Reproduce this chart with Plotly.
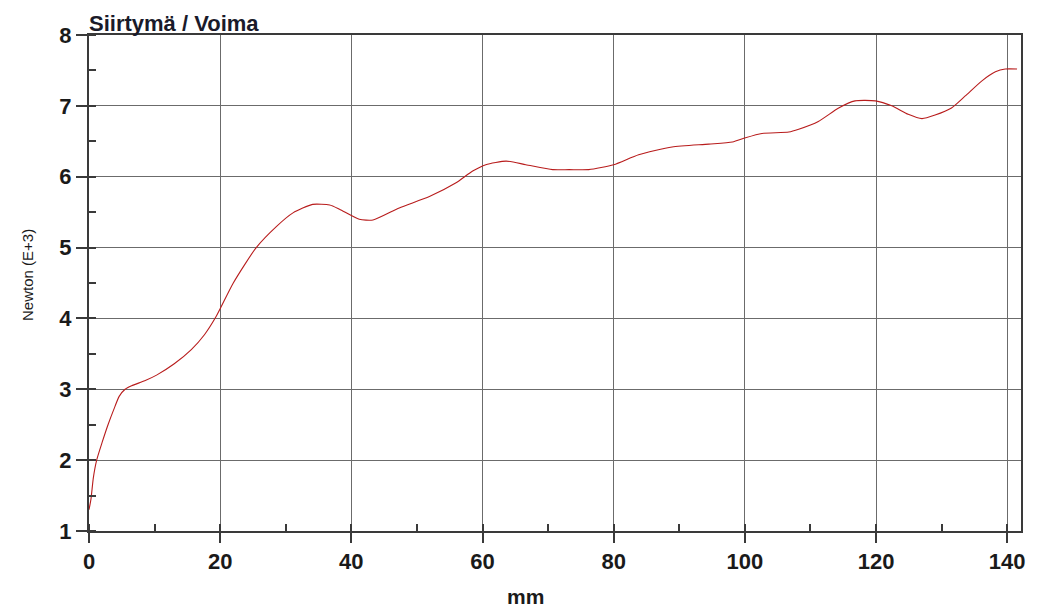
import plotly.graph_objects as go

# Displacement (mm) and force (Newton, E+3)
mm = [0, 0.3, 0.66, 1.17, 2.0, 2.9, 3.8, 4.6, 5.5, 6.5, 8.5, 10.3, 13, 15.6, 17.6, 19.4,
      22.0, 25.5, 28.6, 31.1, 34.1, 36.7, 38.2, 41.2, 43.3, 47.3, 51.9, 55.9, 58.5, 60.5,
      63.6, 66.6, 70.7, 73.2, 76.2, 80, 83.8, 88.9, 94.5, 98.1, 100.1, 102.6, 106.7, 108.2,
      111.2, 114.3, 116.8, 119.9, 122.4, 124.9, 127.0, 129.0, 131.5, 133.6, 136.1, 138.2,
      139.7, 141.5]
newton = [1.3, 1.45, 1.75, 2.0, 2.25, 2.5, 2.72, 2.9, 3.0, 3.05, 3.12, 3.2, 3.36, 3.56, 3.77,
          4.03, 4.5, 5.0, 5.3, 5.49, 5.61, 5.6, 5.54, 5.40, 5.39, 5.56, 5.72, 5.91, 6.08, 6.17,
          6.22, 6.17, 6.10, 6.10, 6.10, 6.17, 6.31, 6.42, 6.46, 6.49, 6.55, 6.61, 6.63, 6.67,
          6.78, 6.97, 7.07, 7.07, 7.00, 6.88, 6.82, 6.87, 6.97, 7.14, 7.35, 7.48, 7.52, 7.52]

x_ticks = [0, 20, 40, 60, 80, 100, 120, 140]
y_ticks = [1, 2, 3, 4, 5, 6, 7, 8]

FONT = "Liberation Sans, Arial, sans-serif"

fig = go.Figure()
fig.add_trace(go.Scatter(x=mm, y=newton, mode="lines",
                         line=dict(color="#b81c1c", width=1.1, shape="spline", smoothing=0.6),
                         showlegend=False, hoverinfo="x+y"))

axis_common = dict(
    showgrid=True, gridcolor="#6b6b6b", gridwidth=1,
    showline=True, linecolor="#3a3a3a", linewidth=2, mirror=True,
    ticks="outside", tickcolor="#3a3a3a", tickwidth=1.5,
    tickfont=dict(family=FONT, size=22, color="#1a1a1a", weight="bold"),
    zeroline=False,
)

fig.update_layout(
    width=1038, height=610,
    margin=dict(l=89, r=15, t=35, b=79),
    paper_bgcolor="white", plot_bgcolor="white",
    xaxis=dict(range=[0, 142.1], tickvals=x_ticks, ticklen=10,
               minor=dict(dtick=10, tick0=0, ticks="inside", ticklen=7,
                          tickcolor="#3a3a3a", showgrid=False),
               **axis_common),
    yaxis=dict(range=[1, 8], tickvals=y_ticks, ticklen=11,
               minor=dict(dtick=0.5, tick0=1, ticks="inside", ticklen=7,
                          tickcolor="#3a3a3a", showgrid=False),
               **axis_common),
    annotations=[
        dict(text="Siirtymä / Voima", xref="paper", yref="paper", x=0, y=1,
             xanchor="left", yanchor="bottom", yshift=-3, xshift=-2, showarrow=False,
             font=dict(family=FONT, size=22, color="#1a1a2a", weight="bold")),
        dict(text="mm", xref="paper", yref="paper", x=(526 - 89) / (1023 - 89), y=0,
             xanchor="center", yanchor="middle", yshift=-65, showarrow=False,
             font=dict(family=FONT, size=21, color="#1a1a1a", weight="bold")),
        dict(text="Newton (E+3)", xref="paper", yref="paper", x=0, y=(531 - 275) / (531 - 35),
             xanchor="center", yanchor="middle", xshift=-62, textangle=-90, showarrow=False,
             font=dict(family=FONT, size=15, color="#1a1a1a")),
    ],
)

fig.write_html("out.html", config={"displayModeBar": False})

# remove the browser's default 8px body margin so the figure sits at the page origin
with open("out.html", "r", encoding="utf-8") as f:
    html = f.read()
html = html.replace("<body>", '<body style="margin:0;padding:0;">', 1)
with open("out.html", "w", encoding="utf-8") as f:
    f.write(html)
